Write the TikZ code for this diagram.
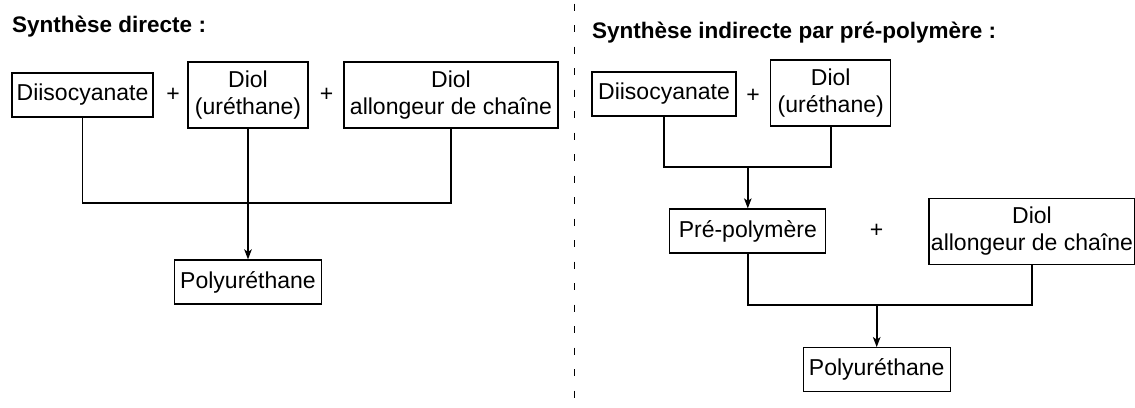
\documentclass[tikz,border=0pt]{standalone}
\usepackage{fontspec}
\setmainfont{Liberation Sans}
\usetikzlibrary{arrows.meta}
\begin{document}
\begin{tikzpicture}[x=1pt,y=-1pt,
  box/.style={draw=black,line width=1.2pt,inner sep=0pt,align=center,
    font=\fontsize{23}{27}\selectfont},
  onebox/.style={box,minimum height=44pt},
  twobox/.style={box,minimum height=66pt},
  plus/.style={inner sep=0pt,font=\fontsize{23}{27}\selectfont},
  title/.style={inner sep=0pt,anchor=base west,font=\fontsize{22.5}{27}\selectfont\bfseries},
  link/.style={line width=1.6pt},
  arrowlink/.style={link,-{Stealth[length=10pt,width=7.5pt,inset=2.5pt]}},
  divider/.style={line width=1.4pt,dash pattern=on 7pt off 14.5pt,dash phase=17.8pt}]
\useasboundingbox (0,0) rectangle (1135,407);

% titles
\node[title] (t1) at (12,32) {Synthèse directe :};
\node[title] (t2) at (592,38) {Synthèse indirecte par pré-polymère :};

% divider
\coordinate (dtop) at (574.7,0);
\coordinate (dbot) at (574.7,407);
\draw[divider] (dtop) -- (dbot);

% left: direct synthesis
\node[onebox,minimum width=141pt] (d1) at (82.5,95) {Diisocyanate};
\node[plus] (p1) at (173,95) {+};
\node[twobox,minimum width=120pt] (d2) at (248,95) {Diol\\(uréthane)};
\node[plus] (p2) at (326.7,95) {+};
\node[twobox,minimum width=214pt] (d3) at (451,95) {Diol\\allongeur de chaîne};
\node[onebox,minimum width=147pt] (poly1) at (248,282) {Polyuréthane};
\coordinate (jL) at (248,203);
\draw[link] (d1.south) |- (jL) -| (d3.south);
\draw[arrowlink] (d2.south) -- (poly1.north);

% right: indirect synthesis
\node[onebox,minimum width=144pt] (r1) at (664,94) {Diisocyanate};
\node[plus] (p3) at (753,96) {+};
\node[twobox,minimum width=120pt] (r2) at (830.7,93) {Diol\\(uréthane)};
\node[onebox,minimum width=156pt] (pre) at (747.8,231) {Pré-polymère};
\node[plus] (p4) at (876.7,230.7) {+};
\node[twobox,minimum width=206pt] (r3) at (1032,231.3) {Diol\\allongeur de chaîne};
\node[onebox,minimum width=147pt] (poly2) at (876.7,369.7) {Polyuréthane};
\coordinate (jR1) at (747.8,166.7);
\coordinate (jR2) at (876.7,305);
\draw[link] (r1.south) |- (jR1) -| (r2.south);
\draw[arrowlink] (jR1) -- (pre.north);
\draw[link] (pre.south) |- (jR2) -| (r3.south);
\draw[arrowlink] (jR2) -- (poly2.north);
\end{tikzpicture}
\end{document}
